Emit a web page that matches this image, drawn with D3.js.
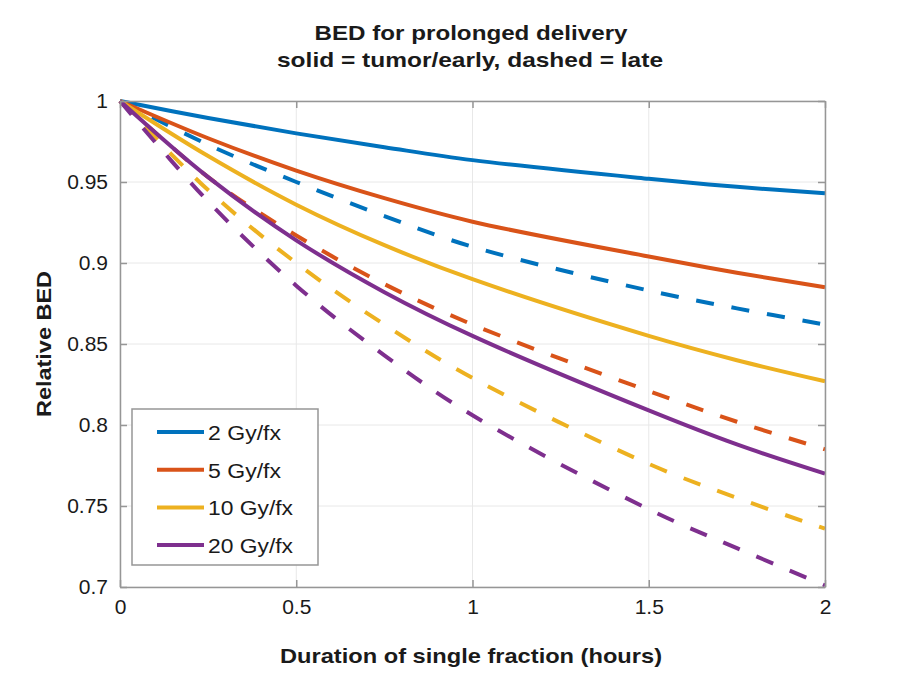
<!doctype html>
<html lang="en">
<head>
<meta charset="UTF-8">
<title>BED for prolonged delivery</title>
<style>
  body { margin: 0; background: #fff; }
  svg text { font-family: "Liberation Sans", Arial, sans-serif; fill: #1a1a1a; }
</style>
</head>
<body>
<div id="chart"></div>
<script src="https://d3js.org/d3.v7.min.js"></script>
<script>
  // values
  const hours = [0, 0.25, 0.5, 0.75, 1, 1.5, 1.75, 2]
  const doses = ['2 Gy/fx', '5 Gy/fx', '10 Gy/fx', '20 Gy/fx']
  const colors = ['#0072BD', '#D95319', '#EDB120', '#7E2F8E']

  // solid = tumor/early
  const early2 = [1, 0.9895, 0.980, 0.9715, 0.9635, 0.952, 0.947, 0.943]
  const early5 = [1, 0.977, 0.957, 0.940, 0.9255, 0.904, 0.894, 0.885]
  const early10 = [1, 0.966, 0.936, 0.911, 0.890, 0.855, 0.840, 0.827]
  const early20 = [1, 0.953, 0.914, 0.882, 0.855, 0.809, 0.788, 0.770]
  // dashed = late
  const late2 = [1, 0.973, 0.950, 0.929, 0.910, 0.883, 0.872, 0.862]
  const late5 = [1, 0.953, 0.917, 0.887, 0.862, 0.821, 0.802, 0.785]
  const late10 = [1, 0.945, 0.900, 0.862, 0.829, 0.776, 0.755, 0.736]
  const late20 = [1, 0.938, 0.886, 0.843, 0.806, 0.748, 0.724, 0.701]

  const xTicks = [0, 0.5, 1, 1.5, 2]
  const yTicks = [0.7, 0.75, 0.8, 0.85, 0.9, 0.95, 1]

  const width = 914
  const height = 684
  const margin = {top: 101, right: 89, bottom: 97, left: 120}
  const innerW = width - margin.left - margin.right
  const innerH = height - margin.top - margin.bottom

  const svg = d3.select('#chart')
    .append('svg')
    .attr('width', width)
    .attr('height', height)

  const x = d3.scaleLinear().domain([0, 2]).range([0, innerW])
  const y = d3.scaleLinear().domain([0.7, 1]).range([innerH, 0])

  const g = svg.append('g').attr('transform', `translate(${margin.left},${margin.top})`)

  // stretch a text element to a given width (reference font is wider)
  function fit(sel, w) {
    sel.attr('textLength', w).attr('lengthAdjust', 'spacingAndGlyphs')
  }
  function widen(sel, k) {
    sel.each(function () {
      const n = this.getComputedTextLength()
      d3.select(this).attr('textLength', n * k).attr('lengthAdjust', 'spacingAndGlyphs')
    })
  }

  // grid
  g.append('g')
    .selectAll('line')
    .data(xTicks)
    .join('line')
    .attr('x1', d => x(d)).attr('x2', d => x(d))
    .attr('y1', 0).attr('y2', innerH)
    .attr('stroke', '#e8e8e8').attr('stroke-width', 1)
  g.append('g')
    .selectAll('line')
    .data(yTicks)
    .join('line')
    .attr('x1', 0).attr('x2', innerW)
    .attr('y1', d => y(d)).attr('y2', d => y(d))
    .attr('stroke', '#e8e8e8').attr('stroke-width', 1)

  const line = d3.line()
    .x((d, i) => x(hours[i]))
    .y(d => y(d))
    .curve(d3.curveCatmullRom.alpha(0.5))

  const early = [early2, early5, early10, early20]
  const late = [late2, late5, late10, late20]

  const plot = g.append('g')
  late.forEach((s, i) => {
    plot.append('path')
      .attr('d', line(s))
      .attr('fill', 'none')
      .attr('stroke', colors[i])
      .attr('stroke-width', 4)
      .attr('stroke-dasharray', '18,18')
  })
  early.forEach((s, i) => {
    plot.append('path')
      .attr('d', line(s))
      .attr('fill', 'none')
      .attr('stroke', colors[i])
      .attr('stroke-width', 4)
  })

  // axes (box with inward ticks)
  const xAxis = d3.axisBottom(x).tickValues(xTicks).tickFormat(d3.format('')).tickSizeInner(-7).tickSizeOuter(0).tickPadding(13)
  const yAxis = d3.axisLeft(y).tickValues(yTicks).tickFormat(d3.format('')).tickSizeInner(-7).tickSizeOuter(0).tickPadding(12)

  const gx = g.append('g').attr('transform', `translate(0,${innerH})`).call(xAxis)
  const gy = g.append('g').call(yAxis)
  const gxTop = g.append('g').call(d3.axisTop(x).tickValues(xTicks).tickSizeInner(-7).tickSizeOuter(0).tickFormat(''))
  const gyRight = g.append('g').attr('transform', `translate(${innerW},0)`)
    .call(d3.axisRight(y).tickValues(yTicks).tickSizeInner(-7).tickSizeOuter(0).tickFormat(''))

  ;[gx, gy, gxTop, gyRight].forEach(a => {
    a.select('.domain').attr('stroke', '#969696').attr('stroke-width', 1.5)
    a.selectAll('.tick line').attr('stroke', '#969696').attr('stroke-width', 1.5)
    a.selectAll('.tick text').attr('font-size', 20).attr('fill', '#1a1a1a')
      .style('font-family', '"Liberation Sans", Arial, sans-serif')
  })
  widen(gx.selectAll('.tick text'), 1.05)
  widen(gy.selectAll('.tick text'), 1.05)

  // titles
  svg.append('text')
    .attr('x', 471).attr('y', 40)
    .attr('text-anchor', 'middle').attr('font-size', 21).attr('font-weight', 'bold')
    .text('BED for prolonged delivery')
    .call(fit, 313)
  svg.append('text')
    .attr('x', 470).attr('y', 67)
    .attr('text-anchor', 'middle').attr('font-size', 21).attr('font-weight', 'bold')
    .text('solid = tumor/early, dashed = late')
    .call(fit, 386)

  svg.append('text')
    .attr('x', 471).attr('y', 663)
    .attr('text-anchor', 'middle').attr('font-size', 21).attr('font-weight', 'bold')
    .text('Duration of single fraction (hours)')
    .call(fit, 382)

  svg.append('text')
    .attr('transform', `translate(51,${margin.top + innerH / 2}) rotate(-90)`)
    .attr('text-anchor', 'middle').attr('font-size', 21).attr('font-weight', 'bold')
    .text('Relative BED')
    .call(fit, 146)

  // legend
  const legend = svg.append('g').attr('transform', 'translate(132,409)')
  legend.append('rect')
    .attr('width', 186).attr('height', 156)
    .attr('fill', '#fff').attr('stroke', '#969696').attr('stroke-width', 1.5)
  const legendWidths = [73, 73, 85, 85]
  doses.forEach((d, i) => {
    const row = legend.append('g').attr('transform', `translate(0,${23 + i * 37.7})`)
    row.append('line')
      .attr('x1', 25).attr('x2', 72)
      .attr('stroke', colors[i]).attr('stroke-width', 4)
    row.append('text')
      .attr('x', 76).attr('y', 8)
      .attr('font-size', 20)
      .text(d)
      .call(fit, legendWidths[i])
  })
</script>
</body>
</html>
